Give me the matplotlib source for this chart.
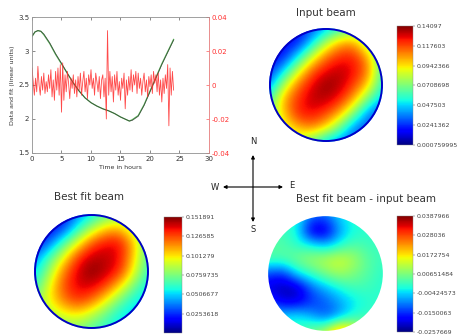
import numpy as np
import matplotlib
matplotlib.use("Agg")
import matplotlib.pyplot as plt
from matplotlib.patches import Circle, FancyArrowPatch

# ---- light curve: data, fit and residuals ----
time_hours = [0, 0.5, 1, 1.5, 2, 3, 4, 5, 6, 7, 8, 9, 10, 11, 12, 13, 14, 15,
              16, 16.5, 17, 18, 19, 20, 21, 22, 23, 24]
fit_values = [3.22, 3.28, 3.30, 3.29, 3.25, 3.12, 2.96, 2.82, 2.67, 2.53, 2.41,
              2.31, 2.24, 2.19, 2.15, 2.12, 2.08, 2.03, 1.99, 1.97, 1.98, 2.04,
              2.20, 2.40, 2.60, 2.80, 2.98, 3.16]
data_values = [3.21, 3.28, 3.30, 3.29, 3.24, 3.11, 2.95, 2.81, 2.67, 2.53, 2.41,
               2.31, 2.24, 2.19, 2.15, 2.12, 2.08, 2.03, 1.99, 1.97, 1.99, 2.05,
               2.21, 2.41, 2.61, 2.81, 2.99, 3.17]

resid_step = 0.2
residuals = [
    0.010, 0.002, -0.006, 0.004, -0.004, 0.011, 0.000, -0.006, 0.005, -0.003,
    0.007, -0.005, 0.002, -0.004, 0.006, -0.002, 0.009, -0.007, 0.003, -0.009,
    0.008, -0.003, 0.010, -0.006, 0.012, -0.016, 0.013, -0.009, 0.006, -0.004,
    0.008, 0.001, -0.008, 0.004, -0.002, 0.006, -0.005, 0.003, -0.007, 0.005,
    -0.003, 0.007, -0.006, 0.002, 0.008, -0.004, 0.004, -0.008, 0.006, 0.000,
    0.009, -0.002, 0.004, -0.006, 0.007, 0.002, -0.004, 0.005, -0.008, 0.003,
    0.006, -0.007, 0.004, -0.020, 0.032, -0.006, 0.008, -0.004, 0.005, -0.010,
    0.006, -0.003, 0.008, -0.006, 0.002, -0.009, 0.004, -0.002, 0.007, -0.014,
    0.003, -0.006, 0.005, -0.003, 0.009, -0.004, 0.006, 0.000, 0.008, -0.005,
    0.007, -0.002, 0.004, -0.006, 0.002, 0.007, -0.004, 0.003, -0.007, 0.005,
    -0.001, 0.006, -0.005, 0.008, 0.001, 0.006, -0.004, 0.007, -0.006, 0.003,
    -0.010, 0.004, -0.005, 0.006, -0.002, 0.012, -0.024, 0.010, -0.006, 0.008,
    -0.003]
resid_time = np.arange(len(residuals)) * resid_step

x_ticks = [0, 5, 10, 15, 20, 25, 30]
left_ticks = [1.5, 2, 2.5, 3, 3.5]
left_labels = ["1.5", "2", "2.5", "3", "3.5"]
right_ticks = [-0.04, -0.02, 0, 0.02, 0.04]
right_labels = ["-0.04", "-0.02", "0", "0.02", "0.04"]

# ---- beam maps sampled on a 9x9 grid (x, y from -1 to 1, top row = north) ----
input_beam = [
    [0.015, 0.015, 0.018, 0.029, 0.043, 0.054, 0.064, 0.064, 0.057],
    [0.015, 0.018, 0.020, 0.047, 0.079, 0.103, 0.105, 0.071, 0.060],
    [0.018, 0.020, 0.049, 0.084, 0.112, 0.123, 0.124, 0.102, 0.060],
    [0.022, 0.047, 0.084, 0.116, 0.128, 0.134, 0.127, 0.110, 0.057],
    [0.036, 0.079, 0.112, 0.128, 0.140, 0.134, 0.119, 0.096, 0.054],
    [0.057, 0.103, 0.121, 0.134, 0.134, 0.124, 0.102, 0.067, 0.043],
    [0.071, 0.098, 0.124, 0.127, 0.119, 0.102, 0.070, 0.035, 0.029],
    [0.071, 0.085, 0.102, 0.110, 0.096, 0.067, 0.035, 0.029, 0.029],
    [0.057, 0.071, 0.078, 0.064, 0.043, 0.036, 0.029, 0.029, 0.029],
]
best_fit_beam = [
    [0.015, 0.015, 0.018, 0.038, 0.053, 0.068, 0.076, 0.076, 0.068],
    [0.015, 0.018, 0.027, 0.058, 0.084, 0.106, 0.109, 0.084, 0.068],
    [0.018, 0.033, 0.064, 0.094, 0.125, 0.137, 0.137, 0.106, 0.068],
    [0.038, 0.064, 0.094, 0.129, 0.144, 0.144, 0.137, 0.103, 0.064],
    [0.050, 0.079, 0.117, 0.140, 0.152, 0.144, 0.132, 0.094, 0.061],
    [0.061, 0.094, 0.125, 0.140, 0.141, 0.129, 0.103, 0.073, 0.055],
    [0.076, 0.097, 0.118, 0.131, 0.122, 0.099, 0.073, 0.056, 0.050],
    [0.076, 0.084, 0.094, 0.100, 0.088, 0.071, 0.056, 0.050, 0.050],
    [0.068, 0.076, 0.076, 0.076, 0.068, 0.061, 0.053, 0.050, 0.050],
]
difference_beam = [
    [0.0000, 0.0000, 0.0000, -0.0100, -0.0110, -0.0032, 0.0000, 0.0000, 0.0000],
    [0.0033, 0.0013, -0.0012, -0.0225, -0.0225, -0.0077, -0.0012, 0.0000, 0.0000],
    [0.0033, 0.0033, 0.0000, -0.0020, -0.0064, -0.0012, 0.0033, 0.0013, 0.0013],
    [0.0033, 0.0033, 0.0065, 0.0097, 0.0117, 0.0142, 0.0097, 0.0033, 0.0013],
    [-0.0129, -0.0161, -0.0032, 0.0013, 0.0065, 0.0097, 0.0065, 0.0033, 0.0000],
    [-0.0210, -0.0230, -0.0235, -0.0116, -0.0064, -0.0012, 0.0020, 0.0013, 0.0000],
    [-0.0140, -0.0200, -0.0200, -0.0150, -0.0120, -0.0077, -0.0032, 0.0000, 0.0000],
    [-0.0032, -0.0032, -0.0012, -0.0064, -0.0129, -0.0077, 0.0000, 0.0013, 0.0013],
    [0.0000, 0.0000, 0.0000, 0.0065, 0.0110, 0.0280, 0.0180, 0.0033, 0.0013],
]

input_ticks = [0.000759995, 0.0241362, 0.047503, 0.0708698, 0.0942366, 0.117603, 0.14097]
input_labels = ["0.000759995", "0.0241362", "0.047503", "0.0708698",
                "0.0942366", "0.117603", "0.14097"]
best_fit_ticks = [0.0253618, 0.0506677, 0.0759735, 0.101279, 0.126585, 0.151891]
best_fit_labels = ["0.0253618", "0.0506677", "0.0759735", "0.101279",
                   "0.126585", "0.151891"]
best_fit_vmin = 0.0000559
diff_ticks = [-0.0257669, -0.0150063, -0.00424573, 0.00651484, 0.0172754,
              0.028036, 0.0387966]
diff_labels = ["-0.0257669", "-0.0150063", "-0.00424573", "0.00651484",
               "0.0172754", "0.028036", "0.0387966"]

W, H = 460, 335
fig = plt.figure(figsize=(W / 100, H / 100), dpi=100)
fig.patch.set_facecolor("white")


def box(x0, y0, x1, y1):
    """Pixel box (left, top, right, bottom) -> figure fraction rect."""
    return [x0 / W, 1 - y1 / H, (x1 - x0) / W, (y1 - y0) / H]


# ---- light curve panel ----
ax = fig.add_axes(box(32, 17, 209, 153))
ax.plot(time_hours, data_values, color="#2ca02c", lw=0.9, alpha=0.8, zorder=2)
ax.plot(time_hours, fit_values, color="#333333", lw=0.6, alpha=0.75, zorder=3)
ax.set_xlim(0, 30)
ax.set_ylim(1.5, 3.5)
ax.set_xticks(x_ticks)
ax.set_yticks(left_ticks)
ax.set_yticklabels(left_labels)
ax.tick_params(direction="in", length=2, width=0.4, labelsize=5, pad=2,
               colors="#333333", top=True)
ax.set_xlabel("Time in hours", fontsize=4.5, color="#333333", labelpad=2)
ax.set_ylabel("Data and fit (linear units)", fontsize=4.5, color="#333333",
              labelpad=2)
for sp in ax.spines.values():
    sp.set_linewidth(0.5)
    sp.set_color("#999999")

ax2 = ax.twinx()
ax2.plot(resid_time, residuals, color="#ff2a2a", lw=0.6, alpha=0.85, zorder=1)
ax2.set_ylim(-0.04, 0.04)
ax2.set_yticks(right_ticks)
ax2.set_yticklabels(right_labels)
ax2.tick_params(direction="in", length=2, width=0.4, labelsize=5, pad=2,
                colors="#ff3030")
for sp in ax2.spines.values():
    sp.set_linewidth(0.5)
    sp.set_color("#999999")
ax2.spines["right"].set_color("#ff8080")


# ---- beam maps ----
def beam_panel(rect, grid, vmin, vmax, cbar_rect, ticks, labels, ring):
    bax = fig.add_axes(rect)
    bax.set_xlim(-1.02, 1.02)
    bax.set_ylim(-1.02, 1.02)
    bax.axis("off")
    n = len(grid)
    half = 1 + 1 / (n - 1)
    im = bax.imshow(np.array(grid), cmap="jet", vmin=vmin, vmax=vmax,
                    extent=(-half, half, -half, half), origin="upper",
                    interpolation="bicubic")
    disk = Circle((0, 0), 1.0, transform=bax.transData, facecolor="none",
                  edgecolor="none")
    bax.add_patch(disk)
    im.set_clip_path(disk)
    if ring:
        bax.add_patch(Circle((0, 0), 0.985, facecolor="none",
                             edgecolor="#0000c8", lw=1.4))
    cax = fig.add_axes(cbar_rect)
    cb = fig.colorbar(im, cax=cax, ticks=ticks)
    cb.set_ticklabels(labels)
    cb.ax.tick_params(labelsize=4.5, length=1.5, width=0.3, pad=1,
                      colors="#444444")
    cb.outline.set_linewidth(0.3)
    cb.outline.set_edgecolor("#888888")
    return bax


beam_panel(box(268, 27, 384, 143), input_beam, 0.000759995, 0.14097,
           box(397, 26, 413, 145), input_ticks, input_labels, True)
beam_panel(box(33, 213, 150, 330), best_fit_beam, best_fit_vmin, 0.151891,
           box(164, 217, 182, 333), best_fit_ticks, best_fit_labels, True)
beam_panel(box(267, 215, 384, 332), difference_beam, -0.0257669, 0.0387966,
           box(397, 216, 413, 332), diff_ticks, diff_labels, False)

title_kw = dict(fontsize=7.5, color="#333333", ha="center", va="center")
fig.text(326 / W, 1 - 13 / H, "Input beam", **title_kw)
fig.text(89 / W, 1 - 197 / H, "Best fit beam", **title_kw)
fig.text(366 / W, 1 - 199 / H, "Best fit beam - input beam", **title_kw)


# ---- compass ----
def fx(px):
    return px / W


def fy(py):
    return 1 - py / H


arrow_kw = dict(arrowstyle="<|-|>", color="black", lw=0.8, mutation_scale=5,
                shrinkA=0, shrinkB=0)
fig.add_artist(FancyArrowPatch((fx(253), fy(222)), (fx(253), fy(155)),
                               transform=fig.transFigure, **arrow_kw))
fig.add_artist(FancyArrowPatch((fx(223), fy(187)), (fx(283), fy(187)),
                               transform=fig.transFigure, **arrow_kw))
compass_kw = dict(fontsize=6, color="#222222", ha="center", va="center")
fig.text(fx(253), fy(142), "N", **compass_kw)
fig.text(fx(215), fy(187), "W", **compass_kw)
fig.text(fx(292), fy(186), "E", **compass_kw)
fig.text(fx(253), fy(229), "S", **compass_kw)

fig.savefig("out.png", dpi=100, facecolor="white")
